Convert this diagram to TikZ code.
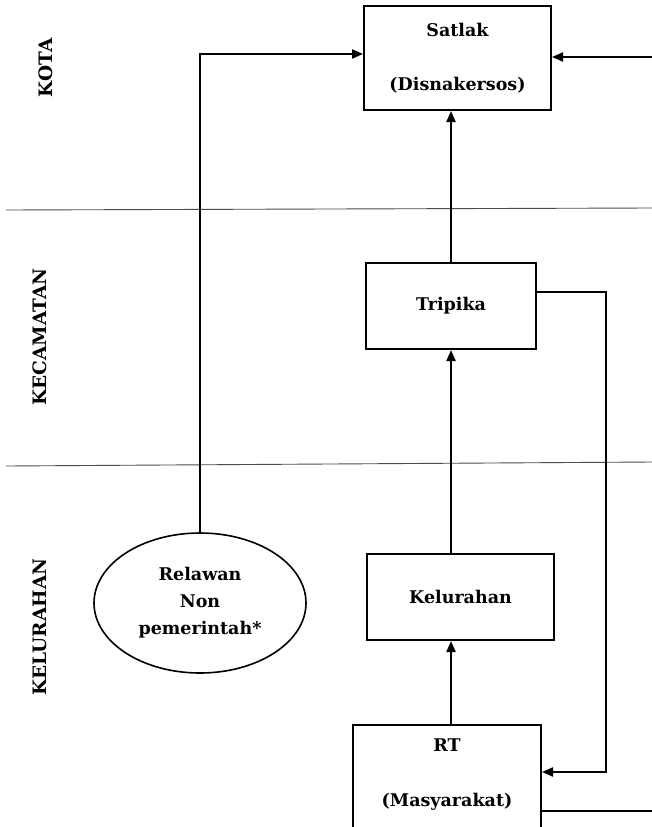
\documentclass[tikz,border=0pt]{standalone}
\usepackage{fontspec}
\setmainfont{DejaVu Serif}
\usetikzlibrary{arrows.meta,shapes.geometric,calc}
\begin{document}
\begin{tikzpicture}[x=1pt,y=-1pt,
  box/.style={draw,line width=2pt,rectangle,inner sep=0pt,font=\fontsize{17.5}{20}\selectfont\bfseries,align=center},
  boxtext/.style={inner sep=0pt,font=\fontsize{17.5}{20}\selectfont\bfseries},
  oval/.style={draw,ellipse,line width=1.6pt,inner sep=0pt,font=\fontsize{17.5}{27}\selectfont\bfseries,align=center},
  conn/.style={line width=2pt},
  arr/.style={conn,-{Triangle[length=11pt,width=9pt]}},
  divider/.style={line width=0.9pt,black!70},
  level/.style={rotate=90,inner sep=0pt,font=\fontsize{18.5}{20}\selectfont\bfseries}]
\clip (0,0) rectangle (652,827);
\fill[white] (0,0) rectangle (652,827);

% level dividers
\draw[divider] (6,210) -- (652,208);
\draw[divider] (6,466) -- (652,462);

% level labels
\node[level] (kota) at (46,68) {KOTA};
\node[level] (kecamatan) at (40,337) {KECAMATAN};
\node[level] (kelurahanlbl) at (40,627) {KELURAHAN};

% boxes
\node[box,minimum width=187pt,minimum height=104pt] (satlak) at (457.5,58) {Satlak\\[34pt](Disnakersos)};
\node[box,minimum width=170pt,minimum height=86pt] (tripika) at (451,306) {Tripika};
\node[box,minimum width=187pt,minimum height=86pt] (kelurahan) at (460.5,597) {Kelurahan};
\node[box,minimum width=188pt,minimum height=130pt] (rt) at (447,790) {};
\node[boxtext] (rttitle) at (447,745) {RT};
\node[boxtext] (rtsub) at (447,802) {(Masyarakat)};
\node[oval,minimum width=212pt,minimum height=140pt] (relawan) at (200,603) {Relawan\\Non\\pemerintah*};

% free ends / bend points
\coordinate (rin) at (652,57);
\coordinate (rout) at (652,811);
\coordinate (loopx) at (606,0);
\coordinate (rtin) at ([yshift=18pt]rt.east);

% connectors
\draw[arr] (relawan.north) |- ([yshift=4pt]satlak.west);
\draw[arr] (rin) -- (satlak.east |- rin);
\draw[arr] (tripika.north) -- (tripika.north |- satlak.south);
\draw[arr] (tripika.south |- kelurahan.north) -- (tripika.south);
\draw[arr] (rt.north -| tripika.south) -- (kelurahan.south -| tripika.south);
\draw[arr] ([yshift=14pt]tripika.east) -| (loopx |- rtin) -- (rtin);
\draw[conn] (rt.east |- rout) -- (rout);
\end{tikzpicture}
\end{document}
